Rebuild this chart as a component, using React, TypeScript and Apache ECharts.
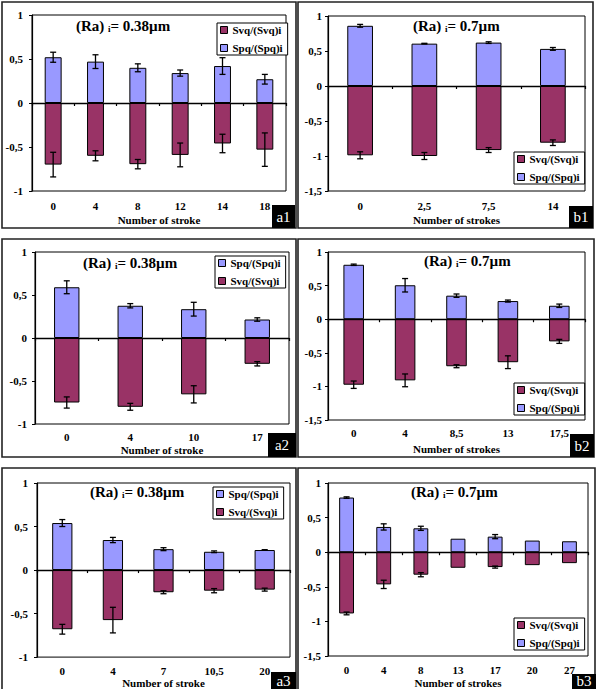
import React, { useEffect, useRef } from "react";
import * as echarts from "echarts";

const SERIF = "'Liberation Serif', 'Times New Roman', serif";
const SPQ = "Spq/(Spq)i";
const SVQ = "Svq/(Svq)i";

// ---- data (a1) ----
const a1Strokes = ["0", "4", "8", "12", "14", "18"];
const a1Spq = [0.52, 0.47, 0.4, 0.34, 0.42, 0.27];
const a1SpqErr = [0.057, 0.078, 0.045, 0.035, 0.095, 0.055];
const a1Svq = [-0.7, -0.6, -0.695, -0.59, -0.46, -0.53];
const a1SvqErr = [0.14, 0.057, 0.053, 0.135, 0.105, 0.19];

// ---- data (b1) ----
const b1Strokes = ["0", "2,5", "7,5", "14"];
const b1Spq = [0.86, 0.605, 0.62, 0.53];
const b1SpqErr = [0.02, 0.005, 0.012, 0.02];
const b1Svq = [-0.99, -1.0, -0.915, -0.81];
const b1SvqErr = [0.05, 0.05, 0.035, 0.04];

// ---- data (a2) ----
const a2Strokes = ["0", "4", "10", "17"];
const a2Spq = [0.59, 0.375, 0.335, 0.215];
const a2SpqErr = [0.075, 0.025, 0.08, 0.02];
const a2Svq = [-0.75, -0.8, -0.655, -0.3];
const a2SvqErr = [0.065, 0.04, 0.1, 0.025];

// ---- data (b2) ----
const b2Strokes = ["0", "4", "8,5", "13", "17,5"];
const b2Spq = [0.81, 0.505, 0.35, 0.27, 0.2];
const b2SpqErr = [0.01, 0.1, 0.025, 0.015, 0.025];
const b2Svq = [-0.975, -0.91, -0.7, -0.64, -0.33];
const b2SvqErr = [0.055, 0.095, 0.022, 0.095, 0.03];

// ---- data (a3) ----
const a3Strokes = ["0", "4", "7", "10,5", "20"];
const a3Spq = [0.54, 0.345, 0.24, 0.21, 0.23];
const a3SpqErr = [0.04, 0.03, 0.017, 0.01, 0.004];
const a3Svq = [-0.68, -0.575, -0.255, -0.237, -0.225];
const a3SvqErr = [0.056, 0.147, 0.017, 0.024, 0.017];

// ---- data (b3) ----
const b3Strokes = ["0", "4", "8", "13", "17", "20", "27"];
const b3Spq = [0.79, 0.365, 0.345, 0.195, 0.225, 0.168, 0.158];
const b3SpqErr = [0.01, 0.045, 0.03, 0, 0.03, 0, 0];
const b3Svq = [-0.885, -0.465, -0.325, -0.225, -0.215, -0.187, -0.158];
const b3SvqErr = [0.02, 0.06, 0.03, 0, 0.015, 0, 0];

type Panel = {
  tag: string;
  cats: string[];
  spq: number[];
  spqErr: number[];
  svq: number[];
  svqErr: number[];
  yMin: number;
  ra: string;
  xName: string;
  legendOrder: string[];
  legendPos: [number, number];
  grid: [number, number, number, number];
  frame: [number, number, number, number];
  tagBox: [number, number, number, number];
  tagTextY: number;
  title: [number, number];
  yMargin: number;
  xMargin: number;
  nameGap: number;
};

const panels: Panel[] = [
  {
    tag: "a1", cats: a1Strokes, spq: a1Spq, spqErr: a1SpqErr, svq: a1Svq, svqErr: a1SvqErr,
    yMin: -1, ra: "0.38", xName: "Number of stroke", legendOrder: [SVQ, SPQ],
    legendPos: [217, 23], grid: [32, 15, 254, 176], frame: [2, 2, 294, 226],
    tagBox: [272, 205, 23, 23], tagTextY: 216.5, title: [76, 26], yMargin: 9, xMargin: 9, nameGap: 23,
  },
  {
    tag: "b1", cats: b1Strokes, spq: b1Spq, spqErr: b1SpqErr, svq: b1Svq, svqErr: b1SvqErr,
    yMin: -1.5, ra: "0.7", xName: "Number of strokes", legendOrder: [SVQ, SPQ],
    legendPos: [514, 152], grid: [328, 16, 257, 175], frame: [298, 2, 295, 226],
    tagBox: [569, 206, 24, 22], tagTextY: 217, title: [413, 26], yMargin: 6, xMargin: 9, nameGap: 23,
  },
  {
    tag: "a2", cats: a2Strokes, spq: a2Spq, spqErr: a2SpqErr, svq: a2Svq, svqErr: a2SvqErr,
    yMin: -1, ra: "0.38", xName: "Number of stroke", legendOrder: [SPQ, SVQ],
    legendPos: [215, 256], grid: [35, 252, 254, 172], frame: [2, 239, 294, 218],
    tagBox: [268, 433, 28, 24], tagTextY: 445, title: [83, 263], yMargin: 8, xMargin: 7, nameGap: 20,
  },
  {
    tag: "b2", cats: b2Strokes, spq: b2Spq, spqErr: b2SpqErr, svq: b2Svq, svqErr: b2SvqErr,
    yMin: -1.5, ra: "0.7", xName: "Number of strokes", legendOrder: [SVQ, SPQ],
    legendPos: [514, 383], grid: [328, 252, 257, 168], frame: [298, 239, 296, 218],
    tagBox: [570, 434, 24, 23], tagTextY: 445.5, title: [424, 261], yMargin: 6, xMargin: 7, nameGap: 23,
  },
  {
    tag: "a3", cats: a3Strokes, spq: a3Spq, spqErr: a3SpqErr, svq: a3Svq, svqErr: a3SvqErr,
    yMin: -1, ra: "0.38", xName: "Number of stroke", legendOrder: [SPQ, SVQ],
    legendPos: [213, 487], grid: [37, 483, 253, 178], frame: [2, 468, 294, 232],
    tagBox: [271, 672, 25, 20], tagTextY: 680.5, title: [90, 492], yMargin: 9, xMargin: 8, nameGap: 19,
  },
  {
    tag: "b3", cats: b3Strokes, spq: b3Spq, spqErr: b3SpqErr, svq: b3Svq, svqErr: b3SvqErr,
    yMin: -1.5, ra: "0.7", xName: "Number of strokes", legendOrder: [SVQ, SPQ],
    legendPos: [514, 618], grid: [328, 483, 260, 174], frame: [298, 468, 297, 232],
    tagBox: [572, 674, 24, 18], tagTextY: 680.5, title: [411, 492], yMargin: 7, xMargin: 8, nameGap: 21,
  },
];

const fmt = (v: number) => String(v).replace(".", ",");

function errRender(params: any, api: any) {
  const x = api.value(0);
  const v = api.value(1);
  const e = api.value(2);
  if (!(e > 0)) return null;
  const hi = api.coord([x, v + e]);
  const lo = api.coord([x, v - e]);
  const half = 3;
  const st = { stroke: "#000", lineWidth: 1.3 };
  return {
    type: "group",
    children: [
      { type: "line", shape: { x1: hi[0], y1: hi[1], x2: lo[0], y2: lo[1] }, style: st },
      { type: "line", shape: { x1: hi[0] - half, y1: hi[1], x2: hi[0] + half, y2: hi[1] }, style: st },
      { type: "line", shape: { x1: lo[0] - half, y1: lo[1], x2: lo[0] + half, y2: lo[1] }, style: st },
    ],
  };
}

function buildOption() {
  const grid: any[] = [];
  const xAxis: any[] = [];
  const yAxis: any[] = [];
  const series: any[] = [];
  const legend: any[] = [];
  const graphic: any[] = [];

  panels.forEach((p, k) => {
    grid.push({
      left: p.grid[0], top: p.grid[1], width: p.grid[2], height: p.grid[3],
      show: true, borderColor: "#000", borderWidth: 1, backgroundColor: "#fff",
    });
    xAxis.push({
      type: "category", gridIndex: k, data: p.cats, position: "bottom",
      axisLine: { show: false, onZero: false }, axisTick: { show: false },
      axisLabel: { interval: 0, margin: p.xMargin, fontFamily: SERIF, fontWeight: "bold", fontSize: 11, color: "#000" },
      name: p.xName, nameLocation: "middle", nameGap: p.nameGap,
      nameTextStyle: { fontFamily: SERIF, fontWeight: "bold", fontSize: 11, color: "#000" },
    });
    xAxis.push({
      type: "category", gridIndex: k, data: p.cats, position: "bottom",
      axisLine: { show: true, onZero: true, lineStyle: { color: "#000", width: 1.3 } },
      axisTick: { show: true, length: 3, interval: 0, lineStyle: { color: "#000", width: 1.2 } },
      axisLabel: { show: false },
    });
    yAxis.push({
      type: "value", gridIndex: k, min: p.yMin, max: 1, interval: 0.5,
      splitLine: { show: false },
      axisLine: { show: true, lineStyle: { color: "#000", width: 1.2 } },
      axisTick: { show: true, length: 3, lineStyle: { color: "#000" } },
      axisLabel: { formatter: fmt, margin: p.yMargin, fontFamily: SERIF, fontWeight: "bold", fontSize: 11, color: "#000" },
    });
    series.push({
      type: "bar", name: SPQ, xAxisIndex: 2 * k, yAxisIndex: k, data: p.spq,
      barWidth: "40%", barGap: "-100%",
      itemStyle: { color: "#9999FF", borderColor: "#000", borderWidth: 1 },
    });
    series.push({
      type: "bar", name: SVQ, xAxisIndex: 2 * k, yAxisIndex: k, data: p.svq,
      barWidth: "40%", barGap: "-100%",
      itemStyle: { color: "#993366", borderColor: "#000", borderWidth: 1 },
    });
    const errData = p.spq
      .map((v, i) => [i, v, p.spqErr[i]])
      .concat(p.svq.map((v, i) => [i, v, p.svqErr[i]]));
    series.push({
      type: "custom", name: "err" + k, xAxisIndex: 2 * k, yAxisIndex: k, z: 5,
      data: errData, renderItem: errRender, encode: { x: 0, y: 1 }, silent: true,
    });
    legend.push({
      orient: "vertical", left: p.legendPos[0], top: p.legendPos[1], data: p.legendOrder,
      icon: "rect", itemWidth: 7, itemHeight: 7, itemGap: 6, padding: [1, 5, 1, 3],
      borderColor: "#000", borderWidth: 1, backgroundColor: "#fff", selectedMode: false,
      itemStyle: { borderColor: "#000", borderWidth: 1 },
      textStyle: { fontFamily: SERIF, fontWeight: "bold", fontSize: 11, color: "#000", lineHeight: 12 },
    });
    graphic.push({
      type: "rect", shape: { x: p.frame[0], y: p.frame[1], width: p.frame[2], height: p.frame[3] },
      style: { fill: "none", stroke: "#222", lineWidth: 1.6 }, z: 1,
    });
    graphic.push({
      type: "text", x: p.title[0], y: p.title[1], z: 10,
      style: {
        text: `{b|(Ra) }{s|i}{b|= ${p.ra}µm}`,
        verticalAlign: "middle",
        rich: {
          b: { fontFamily: SERIF, fontWeight: "bold", fontSize: 15, fill: "#000" },
          s: { fontFamily: SERIF, fontWeight: "bold", fontSize: 9, fill: "#000", verticalAlign: "bottom" },
        },
      },
    });
    graphic.push({
      type: "rect", z: 10,
      shape: { x: p.tagBox[0], y: p.tagBox[1], width: p.tagBox[2], height: p.tagBox[3] },
      style: { fill: "#000" },
    });
    graphic.push({
      type: "text", z: 11, x: p.tagBox[0] + p.tagBox[2] / 2, y: p.tagTextY,
      style: {
        text: p.tag, fill: "#fff", fontFamily: SERIF, fontSize: 15,
        align: "center", verticalAlign: "middle",
      },
    });
  });

  return {
    animation: false,
    backgroundColor: "#fff",
    grid, xAxis, yAxis, series, legend, graphic,
  };
}

export default function App() {
  const ref = useRef<HTMLDivElement>(null);
  useEffect(() => {
    if (!ref.current) return;
    const chart = echarts.init(ref.current, undefined, { renderer: "svg" });
    chart.setOption(buildOption() as any);
    return () => chart.dispose();
  }, []);
  return (
    <div
      ref={ref}
      style={{ position: "fixed", left: 0, top: 0, width: 601, height: 689, background: "#fff" }}
    />
  );
}
